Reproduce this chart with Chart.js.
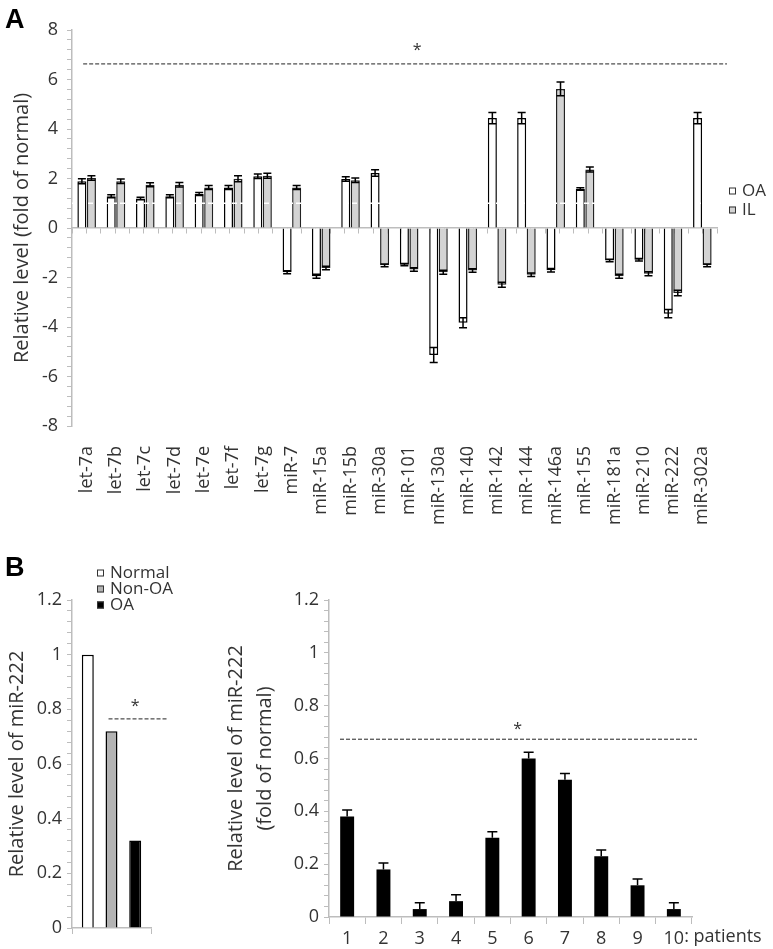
<!DOCTYPE html>
<html>
<head>
<meta charset="utf-8">
<script src="https://cdn.jsdelivr.net/npm/chart.js@4.4.0/dist/chart.umd.min.js"></script>
<style>
  html, body { margin: 0; padding: 0; background: #fff; }
  #page { position: relative; width: 773px; height: 949px; overflow: hidden; }
  .box { position: absolute; }
  .box canvas { display: block; }
  .tag { position: absolute; font: bold 27px "Liberation Sans", Arial, sans-serif; color: #000; }
</style>
</head>
<body>
<div id="page">
  <div class="box" style="left:0;top:0;"><canvas id="chartA" width="773" height="560"></canvas></div>
  <div class="box" style="left:0;top:560px;"><canvas id="chartB1" width="180" height="389"></canvas></div>
  <div class="box" style="left:180px;top:560px;"><canvas id="chartB2" width="593" height="389"></canvas></div>
  <div class="tag" style="left:5px;top:4px;">A</div>
  <div class="tag" style="left:5px;top:552px;">B</div>
</div>
<script>
// panel A: miRNA levels in OA and IL (fold of normal)
const mirLabels = ['let-7a', 'let-7b', 'let-7c', 'let-7d', 'let-7e', 'let-7f', 'let-7g', 'miR-7',
    'miR-15a', 'miR-15b', 'miR-30a', 'miR-101', 'miR-130a', 'miR-140', 'miR-142', 'miR-144',
    'miR-146a', 'miR-155', 'miR-181a', 'miR-210', 'miR-222', 'miR-302a'];
const oaValues = [1.89, 1.28, 1.19, 1.28, 1.37, 1.64, 2.09, -1.79, -1.95, 1.98, 2.22,
    -1.48, -5.13, -3.83, 4.44, 4.44, -1.71, 1.58, -1.31, -1.28, -3.46, 4.44];
const oaErr = [0.1, 0.06, 0.05, 0.06, 0.06, 0.08, 0.09, 0.06, 0.08, 0.09, 0.13,
    0.05, 0.3, 0.2, 0.23, 0.23, 0.07, 0.05, 0.05, 0.05, 0.17, 0.23];
const ilValues = [2.02, 1.89, 1.75, 1.75, 1.64, 1.99, 2.11, 1.64, -1.62, 1.93, -1.51,
    -1.68, -1.79, -1.72, -2.29, -1.89, 5.62, 2.36, -1.95, -1.85, -2.63, -1.51];
const ilErr = [0.09, 0.09, 0.08, 0.09, 0.08, 0.12, 0.1, 0.08, 0.07, 0.09, 0.06,
    0.07, 0.08, 0.07, 0.1, 0.07, 0.28, 0.1, 0.08, 0.08, 0.11, 0.06];

// panel B left: group means
const groupLabels = ['Normal', 'Non-OA', 'OA'];
const groupValues = [1, 0.72, 0.32];
const groupFill = ['#ffffff', '#b3b3b3', '#000000'];

// panel B right: individual OA patients
const patientLabels = ['1', '2', '3', '4', '5', '6', '7', '8', '9', '10'];
const patientValues = [0.38, 0.18, 0.03, 0.06, 0.30, 0.60, 0.52, 0.23, 0.12, 0.03];
const patientErr = [0.025, 0.024, 0.024, 0.024, 0.023, 0.024, 0.023, 0.024, 0.024, 0.024];

Chart.defaults.font.family = '"Open Sans", sans-serif';
Chart.defaults.color = '#333';
const axisGray = '#bdbdbd';
const textColor = '#333';

function drawErrorBars(chart, bothSides, capW) {
    const ctx = chart.ctx;
    const yScale = chart.scales.y;
    ctx.save();
    ctx.strokeStyle = '#000';
    ctx.lineWidth = 1.5;
    chart.data.datasets.forEach((ds, di) => {
        if (!ds.errors) return;
        chart.getDatasetMeta(di).data.forEach((bar, i) => {
            const v = ds.data[i], e = ds.errors[i];
            const sign = v < 0 ? -1 : 1;
            const yOut = yScale.getPixelForValue(v + sign * e);
            const yIn = bothSides ? yScale.getPixelForValue(v - sign * e) : yScale.getPixelForValue(v);
            ctx.beginPath();
            ctx.moveTo(bar.x, yIn);
            ctx.lineTo(bar.x, yOut);
            ctx.moveTo(bar.x - capW / 2, yOut);
            ctx.lineTo(bar.x + capW / 2, yOut);
            if (bothSides) {
                ctx.moveTo(bar.x - capW / 2, yIn);
                ctx.lineTo(bar.x + capW / 2, yIn);
            }
            ctx.stroke();
        });
    });
    ctx.restore();
}

function dashedLine(ctx, x1, x2, y) {
    ctx.save();
    ctx.strokeStyle = '#222';
    ctx.lineWidth = 1;
    ctx.setLineDash([4, 2]);
    ctx.beginPath();
    ctx.moveTo(x1, y);
    ctx.lineTo(x2, y);
    ctx.stroke();
    ctx.restore();
}

function star(ctx, x, y) {
    ctx.save();
    ctx.fillStyle = '#333';
    ctx.font = '16px "Open Sans", sans-serif';
    ctx.textAlign = 'center';
    ctx.textBaseline = 'alphabetic';
    ctx.fillText('*', x, y + 9);
    ctx.restore();
}

function legendRows(chart, x, y0, gap, colors, labels) {
    const ctx = chart.ctx;
    ctx.save();
    ctx.font = '17px "Open Sans", sans-serif';
    ctx.textBaseline = 'middle';
    labels.forEach((lab, i) => {
        const y = y0 + i * gap;
        ctx.fillStyle = colors[i];
        ctx.fillRect(x, y - 3.5, 7, 7);
        ctx.strokeStyle = '#333';
        ctx.lineWidth = 1;
        ctx.strokeRect(x + 0.5, y - 3, 6, 6);
        ctx.fillStyle = textColor;
        ctx.fillText(lab, x + 13, y);
    });
    ctx.restore();
}

const panelAExtras = {
    id: 'panelAExtras',
    afterDatasetsDraw(chart) {
        const ctx = chart.ctx;
        const x = chart.scales.x, y = chart.scales.y;
        const area = chart.chartArea;
        // white dashed line at fold = 1
        ctx.save();
        ctx.strokeStyle = '#fff';
        ctx.lineWidth = 1.5;
        ctx.setLineDash([5, 3]);
        ctx.beginPath();
        ctx.moveTo(area.left, y.getPixelForValue(1));
        ctx.lineTo(area.right, y.getPixelForValue(1));
        ctx.stroke();
        ctx.restore();
        drawErrorBars(chart, true, 8);
        const ly = y.getPixelForValue(6.63);
        dashedLine(ctx, x.getPixelForValue(-0.12), x.getPixelForValue(21.84), ly);
        star(ctx, x.getPixelForValue(11.27), ly - 18);
        legendRows(chart, 729, 191, 19,
            chart.data.datasets.map(d => d.backgroundColor), chart.data.datasets.map(d => d.label));
    }
};

new Chart(document.getElementById('chartA'), {
    type: 'bar',
    data: {
        labels: mirLabels,
        datasets: [{
            label: 'OA',
            data: oaValues,
            errors: oaErr,
            backgroundColor: '#ffffff',
            borderColor: '#000',
            borderWidth: 1.5,
            categoryPercentage: 0.65,
            barPercentage: 0.95
        }, {
            label: 'IL',
            data: ilValues,
            errors: ilErr,
            backgroundColor: '#d3d3d3',
            borderColor: '#222',
            borderWidth: 1.5,
            categoryPercentage: 0.65,
            barPercentage: 0.95
        }]
    },
    options: {
        responsive: false,
        animation: false,
        layout: { padding: { top: 30, right: 56, bottom: 0, left: 0 } },
        plugins: { legend: { display: false }, tooltip: { enabled: false } },
        scales: {
            x: {
                grid: { display: false },
                border: { display: false },
                ticks: { autoSkip: false, minRotation: 90, maxRotation: 90, padding: 12, color: textColor, font: { size: 18 } },
                afterFit: s => { s.height = 134; }
            },
            xz: {
                axis: 'x',
                type: 'linear',
                position: { y: 0 },
                min: 0,
                max: 22,
                ticks: { display: false, count: 45, autoSkip: false },
                grid: { drawOnChartArea: false, tickLength: 5, color: axisGray },
                border: { color: axisGray, width: 1.5 }
            },
            y: {
                min: -8,
                max: 8,
                ticks: {
                    count: 41,
                    autoSkip: false,
                    padding: 9,
                    color: textColor,
                    font: { size: 18 },
                    callback: v => (Math.abs(Math.round(v * 10)) % 20 === 0 ? String(Math.round(v)) : '')
                },
                grid: { drawOnChartArea: false, tickLength: 5, color: axisGray },
                border: { color: axisGray, width: 1.5 },
                title: { display: true, text: 'Relative level (fold of normal)', color: textColor, font: { size: 20 }, padding: { top: 10, bottom: 0 } },
                afterFit: s => { s.width = 72; }
            }
        }
    },
    plugins: [panelAExtras]
});

const panelB1Extras = {
    id: 'panelB1Extras',
    afterDatasetsDraw(chart) {
        const ctx = chart.ctx;
        const y = chart.scales.y;
        const area = chart.chartArea;
        const nonOA = chart.getDatasetMeta(1).data[0];
        const oa = chart.getDatasetMeta(2).data[0];
        const ly = y.getPixelForValue(0.765);
        dashedLine(ctx, nonOA.x - nonOA.width / 2 + 3, area.right + 16, ly);
        star(ctx, oa.x, ly - 17);
        legendRows(chart, 97, 13, 16, groupFill, groupLabels);
    }
};

const fracLabel = v => (Math.round(v * 100) % 20 === 0 ? String(+v.toFixed(1)) : '');

new Chart(document.getElementById('chartB1'), {
    type: 'bar',
    data: {
        labels: [''],
        datasets: groupLabels.map((g, i) => ({
            label: g,
            data: [groupValues[i]],
            backgroundColor: groupFill[i],
            borderColor: '#000',
            borderWidth: 1.5,
            categoryPercentage: 0.9,
            barPercentage: 0.505
        }))
    },
    options: {
        responsive: false,
        animation: false,
        layout: { padding: { top: 40, right: 29, bottom: 0, left: 0 } },
        plugins: { legend: { display: false }, tooltip: { enabled: false } },
        scales: {
            x: {
                grid: { drawOnChartArea: false, tickLength: 6, color: axisGray },
                border: { color: axisGray, width: 1.5 },
                ticks: { display: false },
                afterFit: s => { s.height = 21; }
            },
            y: {
                min: 0,
                max: 1.2,
                ticks: { count: 31, autoSkip: false, padding: 5, color: textColor, font: { size: 18 }, callback: fracLabel },
                grid: { drawOnChartArea: false, tickLength: 5, color: axisGray },
                border: { color: axisGray, width: 1.5 },
                title: { display: true, text: 'Relative level of miR-222', color: textColor, font: { size: 20 }, padding: { top: 5, bottom: 0 } },
                afterFit: s => { s.width = 72; }
            }
        }
    },
    plugins: [panelB1Extras]
});

const panelB2Extras = {
    id: 'panelB2Extras',
    afterDatasetsDraw(chart) {
        const ctx = chart.ctx;
        const x = chart.scales.x, y = chart.scales.y;
        const area = chart.chartArea;
        drawErrorBars(chart, false, 10);
        const ly = y.getPixelForValue(0.673);
        dashedLine(ctx, area.left + 11, area.right + 5, ly);
        star(ctx, x.getPixelForValue(4.7), ly - 14);
        // axis note after the last patient number
        ctx.save();
        ctx.font = '18px "Open Sans", sans-serif';
        ctx.fillStyle = textColor;
        ctx.textBaseline = 'top';
        const last = patientLabels[patientLabels.length - 1];
        const lx = x.getPixelForValue(patientLabels.length - 1) + ctx.measureText(last).width / 2;
        ctx.fillText(': patients', lx, x.top + 7 + 4);
        ctx.restore();
    }
};

new Chart(document.getElementById('chartB2'), {
    type: 'bar',
    data: {
        labels: patientLabels,
        datasets: [{
            label: 'miR-222',
            data: patientValues,
            errors: patientErr,
            backgroundColor: '#000',
            borderWidth: 0,
            categoryPercentage: 0.8,
            barPercentage: 0.48
        }]
    },
    options: {
        responsive: false,
        animation: false,
        layout: { padding: { top: 40, right: 81, bottom: 0, left: 0 } },
        plugins: { legend: { display: false }, tooltip: { enabled: false } },
        scales: {
            x: {
                grid: { drawOnChartArea: false, tickLength: 7, color: axisGray },
                border: { color: axisGray, width: 1.5 },
                ticks: { padding: 4, color: textColor, font: { size: 18 }, autoSkip: false, maxRotation: 0 },
                afterFit: s => { s.height = 32; }
            },
            y: {
                min: 0,
                max: 1.2,
                ticks: { count: 31, autoSkip: false, padding: 5, color: textColor, font: { size: 18 }, callback: fracLabel },
                grid: { drawOnChartArea: false, tickLength: 5, color: axisGray },
                border: { color: axisGray, width: 1.5 },
                title: {
                    display: true,
                    text: ['Relative level of miR-222', '(fold of normal)'],
                    color: textColor,
                    font: { size: 20, lineHeight: 1.45 },
                    padding: { top: 42, bottom: 0 }
                },
                afterFit: s => { s.width = 149; }
            }
        }
    },
    plugins: [panelB2Extras]
});
</script>
</body>
</html>
